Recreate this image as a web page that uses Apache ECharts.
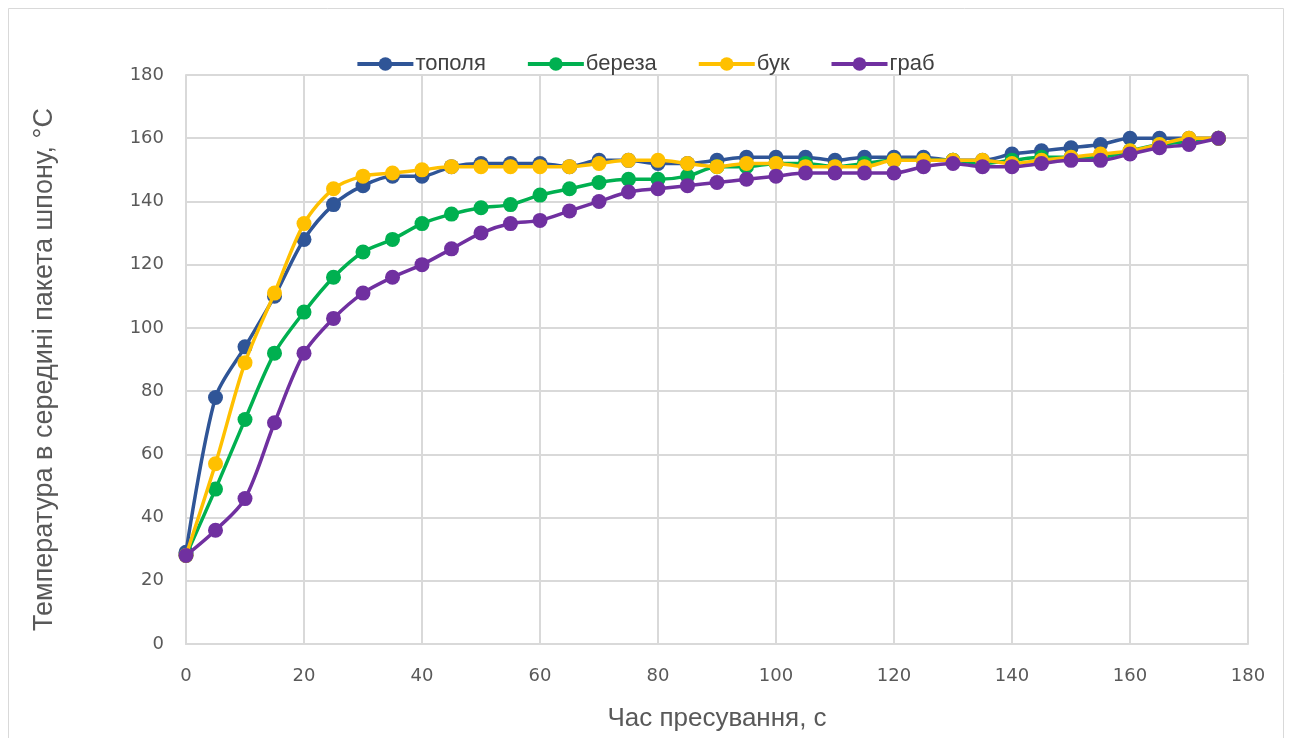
<!DOCTYPE html>
<html>
<head>
<meta charset="utf-8">
<script src="https://cdn.jsdelivr.net/npm/echarts@6/dist/echarts.min.js"></script>
<style>
html, body { margin: 0; padding: 0; background: #fff; }
#chart { width: 1290px; height: 738px; }
</style>
</head>
<body>
<div id="chart"></div>
<script>
// час пресування, с
var times = [0, 5, 10, 15, 20, 25, 30, 35, 40, 45, 50, 55, 60, 65, 70, 75, 80, 85,
    90, 95, 100, 105, 110, 115, 120, 125, 130, 135, 140, 145, 150, 155, 160, 165, 170, 175];

var topolya = [29, 78, 94, 110, 128, 139, 145, 148, 148, 151, 152, 152, 152, 151, 153, 153, 152, 152,
    153, 154, 154, 154, 153, 154, 154, 154, 153, 153, 155, 156, 157, 158, 160, 160, 160, 160];
var bereza = [28, 49, 71, 92, 105, 116, 124, 128, 133, 136, 138, 139, 142, 144, 146, 147, 147, 148,
    151, 151, 152, 152, 151, 152, 153, 153, 153, 152, 153, 154, 154, 154, 156, 158, 159, 160];
var buk = [28, 57, 89, 111, 133, 144, 148, 149, 150, 151, 151, 151, 151, 151, 152, 153, 153, 152,
    151, 152, 152, 151, 151, 151, 153, 153, 153, 153, 152, 153, 154, 155, 156, 158, 160, 160];
var hrab = [28, 36, 46, 70, 92, 103, 111, 116, 120, 125, 130, 133, 134, 137, 140, 143, 144, 145,
    146, 147, 148, 149, 149, 149, 149, 151, 152, 151, 151, 152, 153, 153, 155, 157, 158, 160];

var seriesNames = ['тополя', 'береза', 'бук', 'граб'];
var seriesColors = ['#2F5597', '#00B050', '#FFC000', '#7030A0'];
var seriesData = [topolya, bereza, buk, hrab];

var pairs = function (ys) {
    return times.map(function (t, i) { return [t, ys[i]]; });
};

var myChart = echarts.init(document.getElementById('chart'));

var gridColor = '#d9d9d9';
var labelColor = '#595959';
var titleFont = 'Liberation Sans Narrow, Arial Narrow, Liberation Sans, sans-serif';

var option = {
    animation: false,
    backgroundColor: '#fff',
    graphic: [{
        type: 'rect',
        shape: { x: 8.5, y: 8.5, width: 1275, height: 740 },
        style: { fill: 'none', stroke: '#d9d9d9', lineWidth: 1 },
        silent: true
    }],
    legend: {
        top: 48,
        left: 'center',
        itemWidth: 56,
        itemHeight: 17,
        itemGap: 40,
        lineStyle: { width: 4 },
        textStyle: { color: '#404040', fontSize: 22, fontFamily: titleFont, padding: [0, 0, 0, -3] },
        data: seriesNames
    },
    grid: {
        left: 186,
        right: 42,
        top: 75,
        bottom: 94,
        containLabel: false
    },
    xAxis: {
        type: 'value',
        min: 0,
        max: 180,
        interval: 20,
        name: 'Час пресування, с',
        nameLocation: 'middle',
        nameGap: 62,
        nameTextStyle: { color: labelColor, fontSize: 26, fontFamily: titleFont },
        axisLine: { show: true, lineStyle: { color: gridColor, width: 2 } },
        axisTick: { show: false },
        axisLabel: { color: labelColor, fontSize: 18, margin: 23, fontFamily: 'DejaVu Sans, sans-serif' },
        splitLine: { show: true, lineStyle: { color: gridColor, width: 2 } }
    },
    yAxis: {
        type: 'value',
        min: 0,
        max: 180,
        interval: 20,
        name: 'Температура в середині пакета шпону, °С',
        nameLocation: 'middle',
        nameRotate: 90,
        nameGap: 128,
        nameTextStyle: { color: labelColor, fontSize: 27, fontFamily: titleFont, padding: [0, 20, 0, 0] },
        axisLine: { show: true, lineStyle: { color: gridColor, width: 2 } },
        axisTick: { show: false },
        axisLabel: { color: labelColor, fontSize: 18, margin: 22, fontFamily: 'DejaVu Sans, sans-serif' },
        splitLine: { show: true, lineStyle: { color: gridColor, width: 2 } }
    },
    series: seriesNames.map(function (name, i) {
        return {
            name: name,
            type: 'line',
            smooth: 0.3,
            data: pairs(seriesData[i]),
            symbol: 'circle',
            symbolSize: 15,
            lineStyle: { color: seriesColors[i], width: 3.5 },
            itemStyle: { color: seriesColors[i] },
            z: 2 + i
        };
    })
};

myChart.setOption(option);
</script>
</body>
</html>
